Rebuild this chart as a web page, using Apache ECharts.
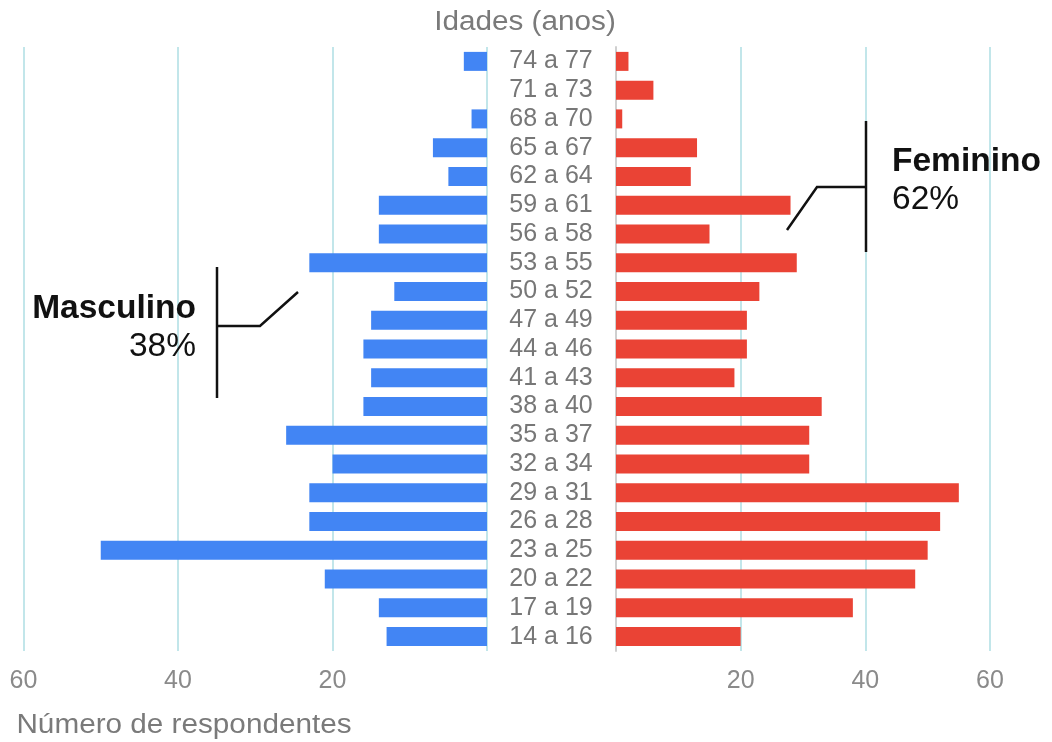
<!DOCTYPE html>
<html>
<head>
<meta charset="utf-8">
<script src="https://cdn.jsdelivr.net/npm/echarts@6/dist/echarts.min.js"></script>
<style>
  html, body { margin: 0; padding: 0; background: #ffffff; }
  #chart { width: 1052px; height: 742px; }
</style>
</head>
<body>
<div id="chart"></div>
<script>
// Age brackets, youngest at the bottom of the pyramid
const ageGroups = [
  '14 a 16', '17 a 19', '20 a 22', '23 a 25', '26 a 28', '29 a 31', '32 a 34',
  '35 a 37', '38 a 40', '41 a 43', '44 a 46', '47 a 49', '50 a 52', '53 a 55',
  '56 a 58', '59 a 61', '62 a 64', '65 a 67', '68 a 70', '71 a 73', '74 a 77'
];
// Respondents per bracket
const masculino = [13, 14, 21, 50, 23, 23, 20, 26, 16, 15, 16, 15, 12, 23, 14, 14, 5, 7, 2, 0, 3];
const feminino  = [20, 38, 48, 50, 52, 55, 31, 31, 33, 19, 21, 21, 23, 29, 15, 28, 12, 13, 1, 6, 2];
// Count axis ticks
const countTicks = [0, 20, 40, 60];

const FONT = '"Liberation Sans", Arial, sans-serif';
const GRID_COLOR = '#c2e6ea';

const sumM = masculino.reduce((a, b) => a + b, 0);
const sumF = feminino.reduce((a, b) => a + b, 0);
const pctM = Math.round(100 * sumM / (sumM + sumF));
const pctF = Math.round(100 * sumF / (sumM + sumF));

const tickMin = countTicks[0];
const tickMax = countTicks[countTicks.length - 1];
const tickStep = countTicks[1] - countTicks[0];

function countAxis(gridIndex, inverse) {
  return {
    type: 'value',
    gridIndex: gridIndex,
    inverse: inverse,
    min: tickMin,
    max: tickMax,
    interval: tickStep,
    axisLine: { show: false },
    axisTick: { show: false },
    splitLine: { show: true, lineStyle: { color: GRID_COLOR, width: 2 } },
    axisLabel: {
      color: '#8a8a8a',
      fontFamily: FONT,
      fontSize: 25,
      margin: 18,
      formatter: v => (v === 0 ? '' : String(v))
    }
  };
}

const chart = echarts.init(document.getElementById('chart'), null, { renderer: 'canvas' });

const ink = { stroke: '#111111', lineWidth: 2.5, fill: null };

chart.setOption({
  animation: false,
  backgroundColor: '#ffffff',
  textStyle: { fontFamily: FONT },
  grid: [
    { left: 23.5, width: 463.5, top: 47, height: 604 },
    { left: 616, width: 374, top: 47, height: 604 }
  ],
  xAxis: [countAxis(0, true), countAxis(1, false)],
  yAxis: [
    {
      type: 'category',
      gridIndex: 0,
      data: ageGroups,
      axisLine: { show: false },
      axisTick: { show: false },
      axisLabel: { show: false }
    },
    {
      type: 'category',
      gridIndex: 1,
      data: ageGroups,
      axisLine: { show: true, lineStyle: { color: '#cfcfcf', width: 2 } },
      axisTick: { show: false },
      axisLabel: {
        interval: 0,
        color: '#777777',
        fontFamily: FONT,
        fontSize: 25,
        align: 'center',
        margin: 65,
        padding: [4, 0, 0, 0]
      }
    }
  ],
  series: [
    {
      name: 'Masculino',
      type: 'bar',
      xAxisIndex: 0,
      yAxisIndex: 0,
      data: masculino,
      barWidth: 19,
      itemStyle: { color: '#4285f4' }
    },
    {
      name: 'Feminino',
      type: 'bar',
      xAxisIndex: 1,
      yAxisIndex: 1,
      data: feminino,
      barWidth: 19,
      itemStyle: { color: '#ea4335' }
    }
  ],
  graphic: {
    elements: [
      {
        type: 'text',
        x: 525, y: 23, scaleX: 1.1, z: 100,
        style: { text: 'Idades (anos)', fill: '#7a7a7a', font: '27px ' + FONT, align: 'center', verticalAlign: 'middle' }
      },
      {
        type: 'text',
        x: 184, y: 726, scaleX: 1.1, z: 100,
        style: { text: 'Número de respondentes', fill: '#7a7a7a', font: '27px ' + FONT, align: 'center', verticalAlign: 'middle' }
      },
      // Masculino callout
      { type: 'polyline', z: 100, shape: { points: [[217, 267], [217, 398]] }, style: ink },
      { type: 'polyline', z: 100, shape: { points: [[217, 326], [260, 326], [298, 292]] }, style: ink },
      {
        type: 'text', x: 196, y: 309, z: 100,
        style: { text: 'Masculino', fill: '#111111', font: 'bold 33.5px ' + FONT, align: 'right', verticalAlign: 'middle' }
      },
      {
        type: 'text', x: 196, y: 347, z: 100,
        style: { text: pctM + '%', fill: '#111111', font: '33.5px ' + FONT, align: 'right', verticalAlign: 'middle' }
      },
      // Feminino callout
      { type: 'polyline', z: 100, shape: { points: [[866, 121], [866, 252]] }, style: ink },
      { type: 'polyline', z: 100, shape: { points: [[866, 187], [817, 187], [787, 230]] }, style: ink },
      {
        type: 'text', x: 892, y: 162, z: 100,
        style: { text: 'Feminino', fill: '#111111', font: 'bold 33.5px ' + FONT, align: 'left', verticalAlign: 'middle' }
      },
      {
        type: 'text', x: 892, y: 200, z: 100,
        style: { text: pctF + '%', fill: '#111111', font: '33.5px ' + FONT, align: 'left', verticalAlign: 'middle' }
      }
    ]
  }
});
</script>
</body>
</html>
